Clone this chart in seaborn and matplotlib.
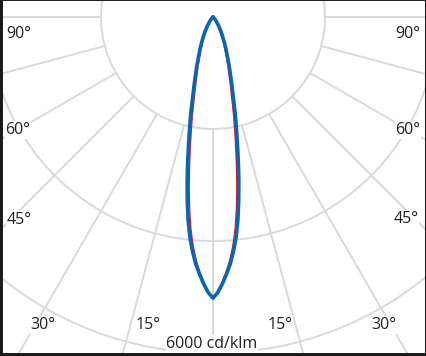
import numpy as np
import pandas as pd
import seaborn as sns
import matplotlib
matplotlib.use("Agg")
import matplotlib.pyplot as plt

# luminous intensity (cd/klm), angle from nadir (deg)
angles = [0, 1, 2, 3, 4, 5, 6, 7, 8, 9, 10, 11, 12, 13, 14, 15, 16, 17, 18, 19,
          20, 22, 24, 26, 28, 30, 33, 36, 40, 45, 50, 60, 90]
blue_cd = [5020, 4920, 4770, 4600, 4420, 4200, 3950, 3650, 3300, 2950, 2600, 2280,
           2000, 1760, 1520, 1340, 1190, 1060, 950, 850, 760, 620, 500, 400, 320,
           250, 170, 110, 60, 30, 15, 5, 0]
red_cd = [5010, 4905, 4740, 4555, 4350, 4100, 3805, 3455, 3075, 2700, 2345, 2035,
          1770, 1515, 1320, 1165, 1030, 915, 805, 725, 650, 515, 405, 315, 245,
          185, 117, 74, 41, 19, 12, 4, 0]

rings = [2000, 4000, 6000]
spokes = list(range(-90, 91, 15))
angle_labels = ["90°", "60°", "45°", "30°", "15°", "15°", "30°", "45°", "60°", "90°"]
scale_label = "6000 cd/klm"


def to_xy(ang, val):
    t = np.radians(ang)
    return np.asarray(val) * np.sin(t), -np.asarray(val) * np.cos(t)


def curve(vals, name):
    a = np.array(angles, dtype=float)
    v = np.array(vals, dtype=float)
    full_a = np.concatenate([-a[::-1], a[1:]])
    full_v = np.concatenate([v[::-1], v[1:]])
    x, y = to_xy(full_a, full_v)
    return pd.DataFrame({"x": x, "y": y, "curve": name})


sns.set_theme(style="white")
plt.rcParams["font.family"] = ["Open Sans", "DejaVu Sans"]

W, H = 427, 356
fig = plt.figure(figsize=(W / 100, H / 100), dpi=100)
ax = fig.add_axes([0, 0, 1, 1])

s = 2000 / 112.0  # cd/klm per pixel
cx, cy = 213, 17
ax.set_xlim(-cx * s, (W - cx) * s)
ax.set_ylim((cy - H) * s, cy * s)
ax.set_aspect("equal")

grid = "#d9d9d9"
th = np.linspace(0, 2 * np.pi, 400)
for r in rings:
    ax.plot(r * np.cos(th), r * np.sin(th), color=grid, lw=1.4, zorder=1)
for a in spokes:
    x0, y0 = to_xy(a, rings[0])
    x1, y1 = to_xy(a, 9000)
    ax.plot([x0, x1], [y0, y1], color=grid, lw=1.4, zorder=1)

# red under, blue on top
sns.lineplot(data=curve(red_cd, "red"), x="x", y="y", estimator=None, sort=False,
             color="#e3142d", lw=1.2, ax=ax, zorder=3)
sns.lineplot(data=curve(blue_cd, "blue"), x="x", y="y", estimator=None, sort=False,
             color="#0b66b2", lw=2.6, ax=ax, zorder=4, solid_joinstyle="round")

# labels (pixel positions of the reference)
label_pos = [(19, 34), (18, 130), (19, 220), (43, 325), (148, 325),
             (280, 325), (384, 325), (406, 219), (408, 130), (408, 34)]
box = dict(facecolor="white", edgecolor="none", pad=0.5)
for txt, (px, py) in zip(angle_labels, label_pos):
    ax.text(px / W, 1 - py / H, txt, transform=ax.transAxes, ha="center",
            va="center", fontsize=11.5, color="#231f20", bbox=box, zorder=5)
ax.text(212 / W, 1 - 344 / H, scale_label, transform=ax.transAxes, ha="center",
        va="center", fontsize=11.5, color="#231f20", bbox=box, zorder=5)

ax.set_xlabel("")
ax.set_ylabel("")
ax.set_xticks([])
ax.set_yticks([])
for side, lw in {"left": 4.3, "right": 2.9, "top": 1.4, "bottom": 4.3}.items():
    ax.spines[side].set_visible(True)
    ax.spines[side].set_color("#1a1a1a")
    ax.spines[side].set_linewidth(lw)

fig.savefig("out.png", dpi=100)
